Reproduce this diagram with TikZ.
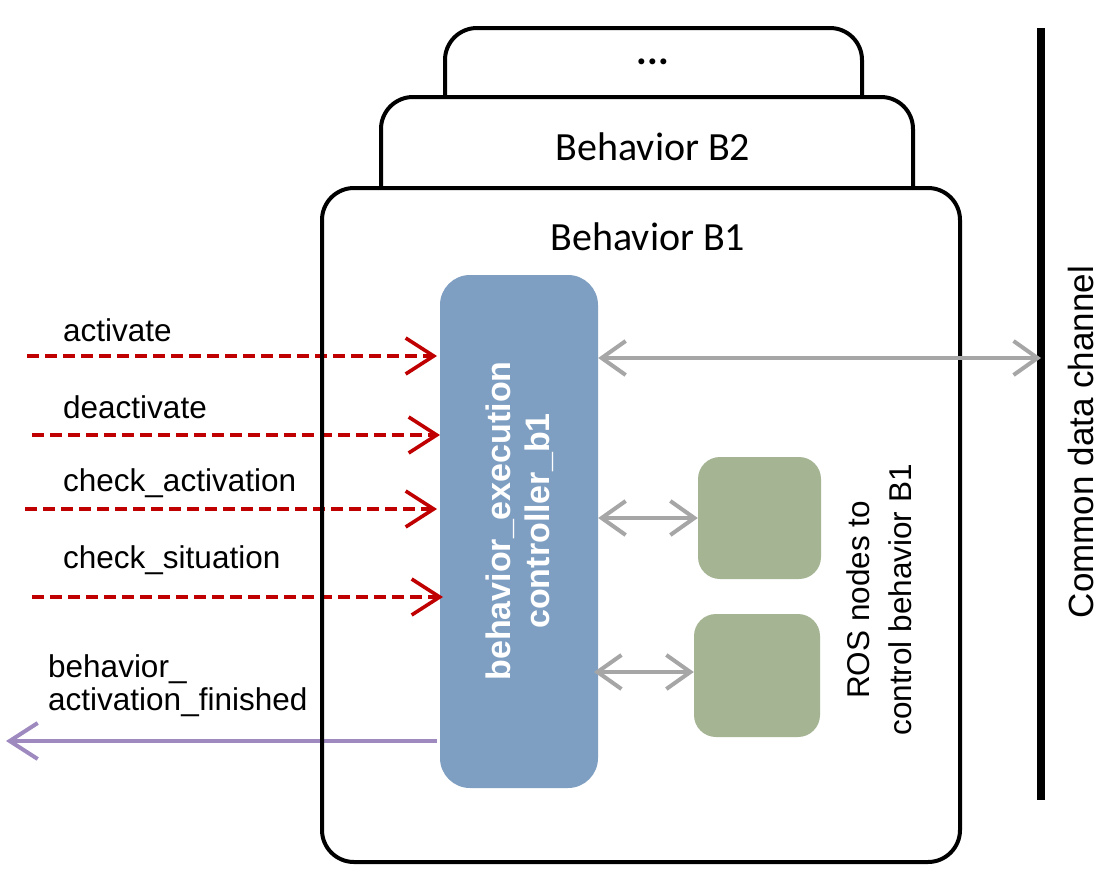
\documentclass[tikz,border=0pt]{standalone}
\usepackage{fontspec}
\setmainfont{Liberation Sans}
\newfontfamily\calib{Carlito}
\usetikzlibrary{arrows.meta}
\definecolor{redarr}{HTML}{C00000}
\definecolor{blueb}{HTML}{7F9FC2}
\definecolor{greenb}{HTML}{A5B594}
\definecolor{grayarr}{HTML}{A6A6A6}
\definecolor{purparr}{HTML}{9F8AC0}
\tikzset{
  behbox/.style={draw=black, line width=4pt, fill=white, rounded corners=32pt},
  behtitle/.style={font=\calib\fontsize{40}{44}\selectfont, inner sep=0pt},
  ctrlbox/.style={fill=blueb, rounded corners=30pt, inner sep=0pt},
  rosbox/.style={fill=greenb, rounded corners=22pt, inner sep=0pt},
  lbl/.style={font=\fontsize{31.5}{36}\selectfont, inner sep=0pt, anchor=west},
  cmd/.style={draw=redarr, line width=3.6pt, dash pattern=on 12pt off 6pt,
    -{Straight Barb[length=28pt,width=36pt,line width=3.6pt]}},
  fin/.style={draw=purparr, line width=4pt,
    -{Straight Barb[length=28pt,width=36pt,line width=4pt]}},
  data/.style={draw=grayarr, line width=4pt,
    {Straight Barb[length=24pt,width=34pt,line width=4pt]}-{Straight Barb[length=24pt,width=34pt,line width=4pt]}},
}
\begin{document}
\begin{tikzpicture}[x=1pt,y=-1pt]
\useasboundingbox (0,0) rectangle (1114,884);
% stacked behavior boxes
\path[behbox] (445,28) rectangle (862,140);
\node[behtitle] (dots) at (653,62) {\textbf{...}};
\path[behbox] (381,97) rectangle (913,230);
\node[behtitle] (b2) at (653,147) {Behavior B2};
\path[behbox, draw=none] (322,188) rectangle (960,862);
\node[behtitle] (b1) at (648,237) {Behavior B1};
% controller
\node[ctrlbox, minimum width=158pt, minimum height=513pt] (ctrl) at (519,531.5) {};
\node[rotate=90, align=center, text=white, font=\bfseries\fontsize{34}{39}\selectfont, inner sep=0pt] (ctrltext) at (520,521) {behavior\_execution\\controller\_b1};
% ROS nodes
\node[rosbox, minimum width=123pt, minimum height=122pt] (ros1) at (759.5,518) {};
\node[rosbox, minimum width=126pt, minimum height=123pt] (ros2) at (757,675.5) {};
\node[rotate=90, align=center, font=\fontsize{31.5}{42}\selectfont, inner sep=0pt] (roslbl) at (879,600) {ROS nodes to\\control behavior B1};
% command arrows
\coordinate (s1) at (27,356);
\coordinate (e1) at (437,356);
\coordinate (s2) at (32,435);
\coordinate (e2) at (440,435);
\coordinate (s3) at (25,509);
\coordinate (e3) at (437,509);
\coordinate (s4) at (32,597);
\coordinate (e4) at (443,597);
\draw[cmd] (s1) -- (e1);
\draw[cmd] (s2) -- (e2);
\draw[cmd] (s3) -- (e3);
\draw[cmd] (s4) -- (e4);
\node[lbl] (l1) at (63,330) {activate};
\node[lbl] (l2) at (63,407) {deactivate};
\node[lbl] (l3) at (63,483) {check\_activation};
\node[lbl] (l4) at (63,560) {check\_situation};
% finished arrow
\coordinate (f1) at (437,741);
\coordinate (f2) at (6,741);
\draw[fin] (f1) -- (f2);
\node[lbl, align=left, font=\fontsize{31.5}{33}\selectfont] (l5) at (48,686) {behavior\_\\activation\_finished};
% B1 border on top of incoming arrows
\path[behbox, fill=none] (322,188) rectangle (960,862);
% common data channel
\coordinate (chtop) at (1041,28);
\coordinate (chbot) at (1041,800);
\draw[line width=8pt] (chtop) -- (chbot);
\node[rotate=90, font=\fontsize{35}{40}\selectfont, inner sep=0pt] (chlbl) at (1081,442) {Common data channel};
% data arrows
\draw[data] (ctrl.east |- 0,358) -- (chtop |- 0,358);
\draw[data] (ctrl.east |- ros1.west) -- (ros1.west);
\draw[data] (594,672) -- (ros2.west |- 0,672);
\end{tikzpicture}
\end{document}
